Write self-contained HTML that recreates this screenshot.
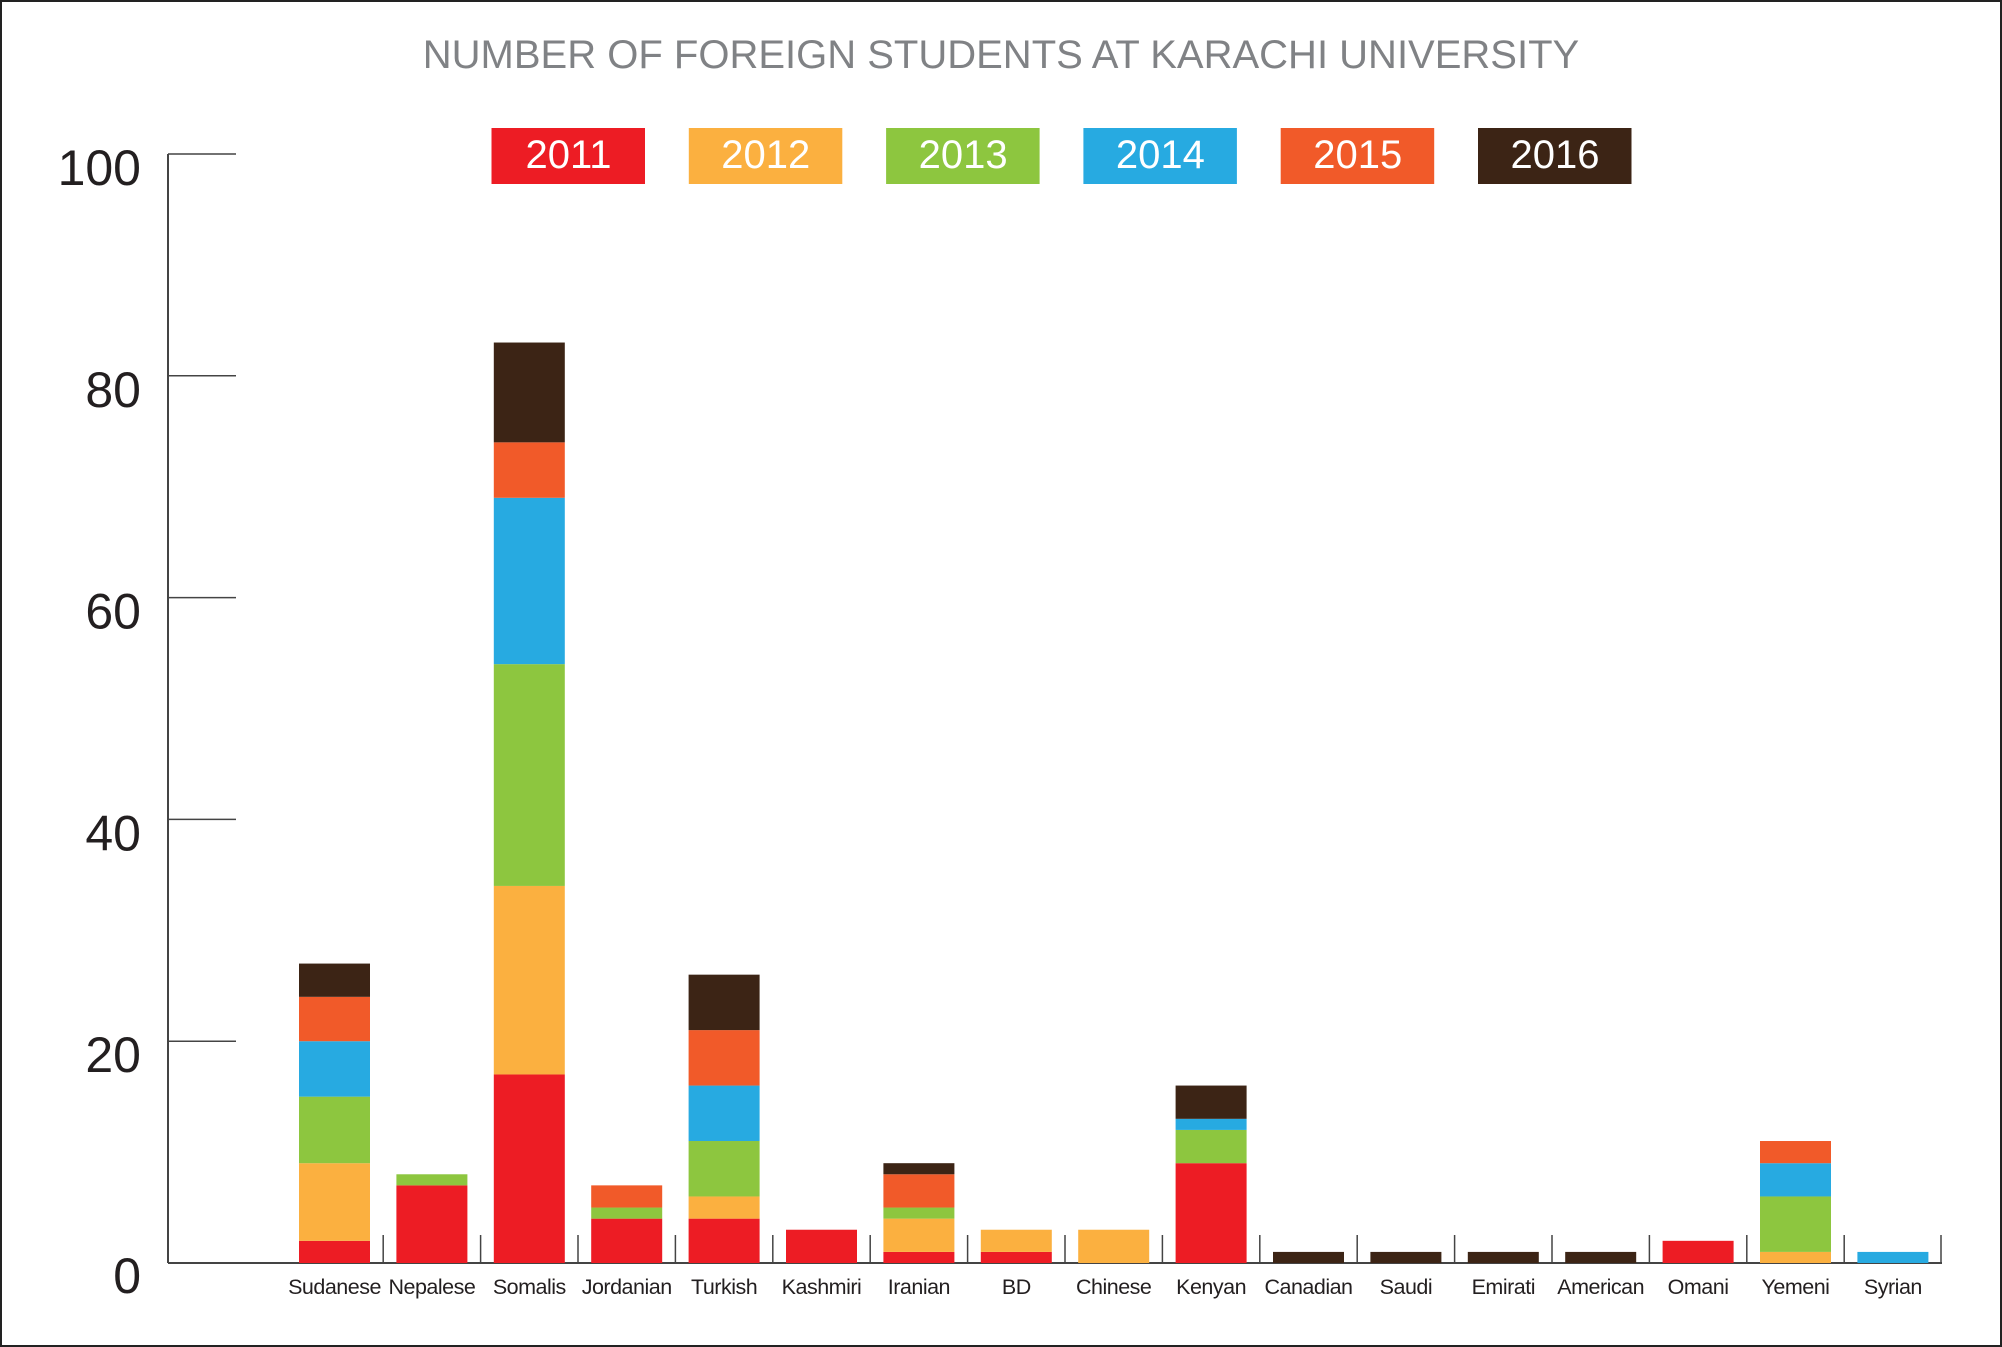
<!DOCTYPE html>
<html><head><style>
html,body{margin:0;padding:0;background:#fff}
svg{display:block}
text{font-family:"Liberation Sans",sans-serif}
</style></head><body>
<svg id="s" width="2002" height="1347" xmlns="http://www.w3.org/2000/svg">
<rect x="1" y="1" width="2000" height="1345" fill="#fff" stroke="#222" stroke-width="2"/>
<text x="1001" y="68" text-anchor="middle" font-size="40" fill="#808285">NUMBER OF FOREIGN STUDENTS AT KARACHI UNIVERSITY</text>
<g id="g"></g>
</svg>
<script>
var C=["#ED1C24","#FBB040","#8DC63F","#27AAE1","#F15A29","#3C2415"];
var Y=["2011","2012","2013","2014","2015","2016"];
var D=[["Sudanese",[2,7,6,5,4,3]],["Nepalese",[7,0,1,0,0,0]],["Somalis",[17,17,20,15,5,9]],["Jordanian",[4,0,1,0,2,0]],["Turkish",[4,2,5,5,5,5]],["Kashmiri",[3,0,0,0,0,0]],["Iranian",[1,3,1,0,3,1]],["BD",[1,2,0,0,0,0]],["Chinese",[0,3,0,0,0,0]],["Kenyan",[9,0,3,1,0,3]],["Canadian",[0,0,0,0,0,1]],["Saudi",[0,0,0,0,0,1]],["Emirati",[0,0,0,0,0,1]],["American",[0,0,0,0,0,1]],["Omani",[2,0,0,0,0,0]],["Yemeni",[0,1,5,3,2,0]],["Syrian",[0,0,0,1,0,0]]];
var h="",base=1263,u=11.09,ax=168;
h+='<line x1="'+ax+'" y1="154" x2="'+ax+'" y2="'+base+'" stroke="#444" stroke-width="2"/>';
for(var i=0;i<=5;i++){var y=base-i*20*u;
 if(i>0)h+='<line x1="'+ax+'" y1="'+y+'" x2="236" y2="'+y+'" stroke="#444" stroke-width="1.5"/>';
 h+='<text x="141" y="'+(y+(i==0?30:31))+'" text-anchor="end" font-size="50" fill="#231f20">'+(i*20)+'</text>';}
h+='<line x1="'+ax+'" y1="'+base+'" x2="1942" y2="'+base+'" stroke="#444" stroke-width="2"/>';
h+='<line x1="1941" y1="'+(base-28)+'" x2="1941" y2="'+base+'" stroke="#444" stroke-width="1.5"/>';
for(var k=0;k<6;k++){var lx=491.5+k*197.3;
 h+='<rect x="'+lx+'" y="128" width="153.5" height="56" fill="'+C[k]+'"/>';
 h+='<text x="'+(lx+77)+'" y="168" text-anchor="middle" font-size="40" fill="#fff">'+Y[k]+'</text>';}
D.forEach(function(d,j){var cx=334.5+j*97.4,x=cx-35.5,t=0;
 d[1].forEach(function(v,k){if(!v)return;var y1=base-(t+v)*u;h+='<rect x="'+x+'" y="'+y1+'" width="71" height="'+(v*u)+'" fill="'+C[k]+'"/>';t+=v;});
 if(j<D.length-1){var sx=cx+48.7;h+='<line x1="'+sx+'" y1="'+(base-28)+'" x2="'+sx+'" y2="'+base+'" stroke="#444" stroke-width="1.5"/>';}
 h+='<text x="'+cx+'" y="1294" text-anchor="middle" font-size="21.5" letter-spacing="-0.5" fill="#231f20">'+d[0]+'</text>';});
document.getElementById("g").innerHTML=h;
</script>
</body></html>
